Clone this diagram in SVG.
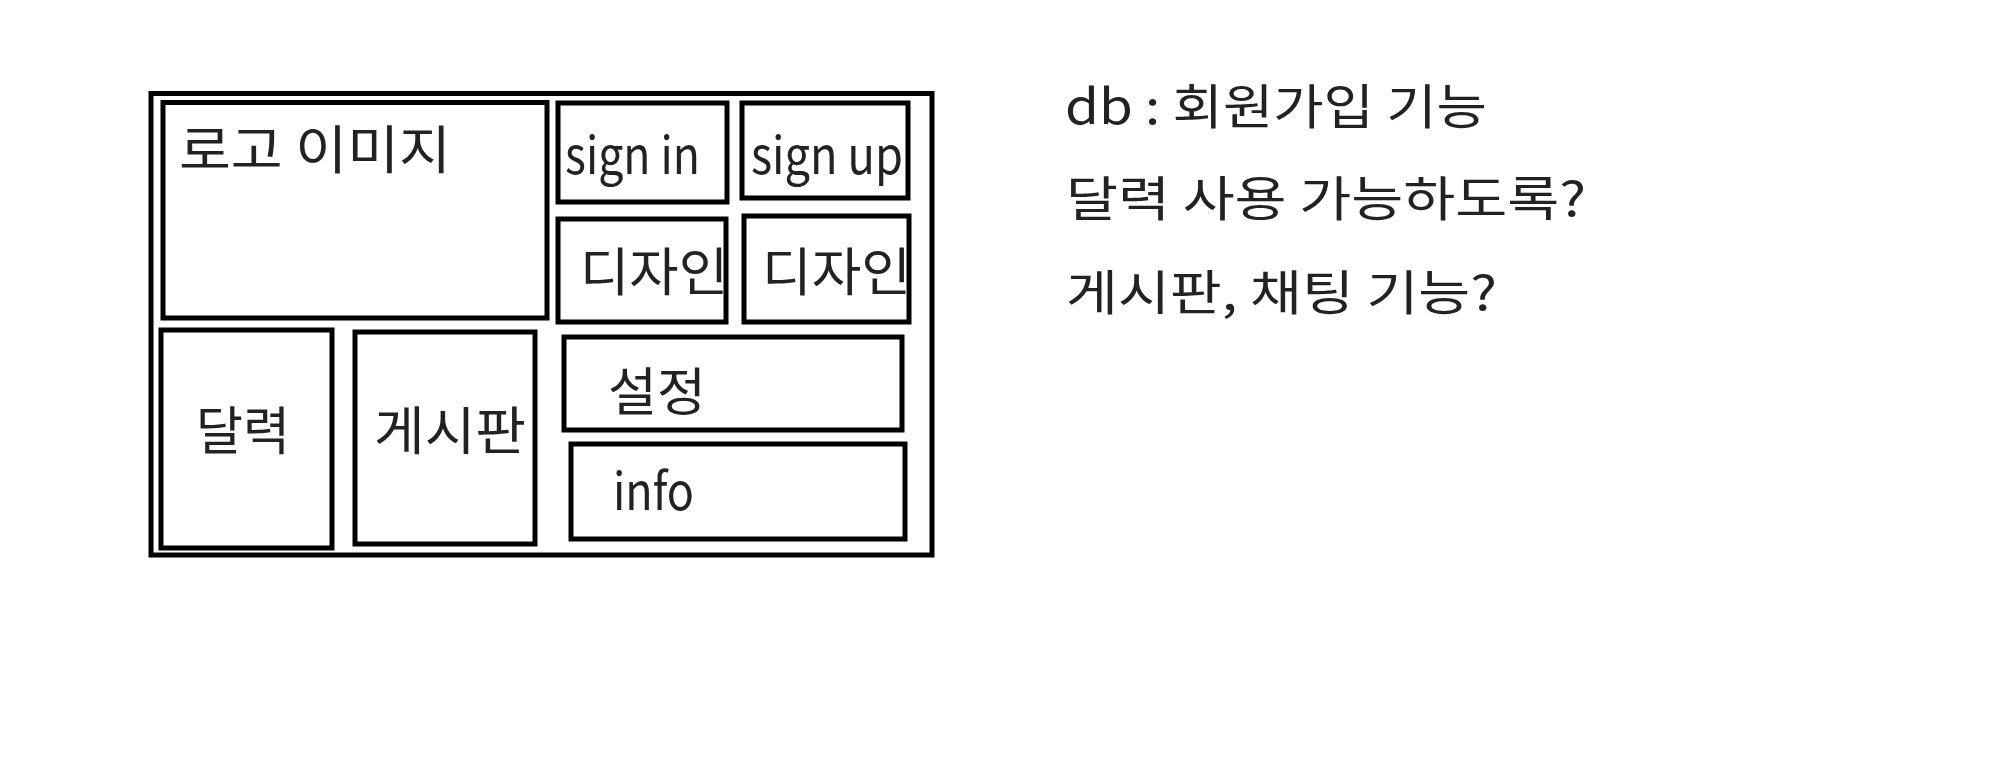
<svg xmlns="http://www.w3.org/2000/svg" width="1993" height="768" viewBox="0 0 1993 768">
<style>
.box{fill:none;stroke:#000;stroke-width:5}
.t{font-family:"Noto Sans CJK KR","Noto Sans",sans-serif;fill:#222;font-size:52px}
.n{font-size:48px}
</style>
<rect width="1993" height="768" fill="#fff"/>
<g id="frame"><rect class="box" x="151" y="93.5" width="781" height="461.5"/></g>
<g id="logo"><rect class="box" x="163" y="102.5" width="384" height="215.5"/><text class="t" x="179" y="169" textLength="272" lengthAdjust="spacingAndGlyphs">로고 이미지</text></g>
<g id="signin"><rect class="box" x="558" y="103" width="169" height="99"/><text class="t" x="565" y="174" textLength="135" lengthAdjust="spacingAndGlyphs">sign in</text></g>
<g id="signup"><rect class="box" x="742" y="103" width="166" height="95"/><text class="t" x="751" y="174" textLength="152" lengthAdjust="spacingAndGlyphs">sign up</text></g>
<g id="design1"><text class="t" x="580" y="291" textLength="148" lengthAdjust="spacingAndGlyphs">디자인</text><rect class="box" x="558" y="219" width="168" height="103"/></g>
<g id="design2"><text class="t" x="762" y="291" textLength="149" lengthAdjust="spacingAndGlyphs">디자인</text><rect class="box" x="744" y="216" width="165" height="106"/></g>
<g id="calendar"><rect class="box" x="161" y="330" width="171" height="218"/><text class="t" x="196" y="450" textLength="94" lengthAdjust="spacingAndGlyphs">달력</text></g>
<g id="board"><rect class="box" x="355" y="332" width="180" height="212"/><text class="t" x="374" y="450" textLength="152" lengthAdjust="spacingAndGlyphs">게시판</text></g>
<g id="settings"><rect class="box" x="564" y="337" width="338" height="93"/><text class="t" x="608" y="411" textLength="98" lengthAdjust="spacingAndGlyphs">설정</text></g>
<g id="info"><rect class="box" x="571" y="444" width="334" height="95"/><text class="t" x="613" y="510" textLength="81" lengthAdjust="spacingAndGlyphs">info</text></g>
<g id="notes">
<text class="t n" x="1065" y="124" textLength="422" lengthAdjust="spacingAndGlyphs">db : 회원가입 기능</text>
<text class="t n" x="1066" y="216" textLength="520" lengthAdjust="spacingAndGlyphs">달력 사용 가능하도록?</text>
<text class="t n" x="1066" y="310" textLength="431" lengthAdjust="spacingAndGlyphs">게시판, 채팅 기능?</text>
</g>
<g id="connectors"></g>
</svg>
